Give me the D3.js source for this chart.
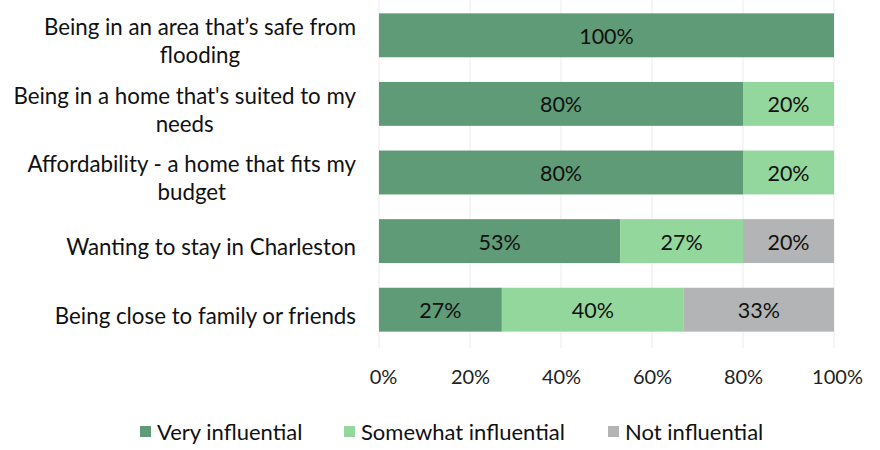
<!DOCTYPE html>
<html>
<head>
<meta charset="utf-8">
<script src="https://cdn.jsdelivr.net/npm/d3@7"></script>
<style>
  html, body { margin: 0; padding: 0; background: #fff; }
  svg { display: block; font-family: Lato, "Open Sans", sans-serif; }
</style>
</head>
<body>
<svg id="chart" width="880" height="450"></svg>
<script>
// Survey: how influential each factor was in choosing where to live
const categories = [
  ["Being in an area that\u2019s safe from", "flooding"],
  ["Being in a home that's suited to my", "needs"],
  ["Affordability - a home that fits my", "budget"],
  ["Wanting to stay in Charleston"],
  ["Being close to family or friends"]
];
const seriesNames = ["Very influential", "Somewhat influential", "Not influential"];
const veryInfluential     = [100, 80, 80, 53, 27];
const somewhatInfluential = [0, 20, 20, 27, 40];
const notInfluential      = [0, 0, 0, 20, 33];
const tickValues = [0, 20, 40, 60, 80, 100];
const colors = ["#5f9b77", "#93d79c", "#b3b4b5"];

const svg = d3.select("#chart");
const plot = { left: 379, right: 834, top: 1, bottom: 344 };

const x = d3.scaleLinear().domain([0, 100]).range([plot.left, plot.right]);
const y = d3.scaleBand().domain(d3.range(categories.length)).range([plot.top, plot.bottom]).paddingInner(0.36).paddingOuter(0.18);

// faint vertical gridlines
svg.append("g").selectAll("line").data(tickValues).join("line")
  .attr("x1", d => x(d)).attr("x2", d => x(d))
  .attr("y1", 0).attr("y2", 348)
  .attr("stroke", "#ebebeb").attr("stroke-width", 1);

// stacked segments
const rows = categories.map((c, i) => ({ i, v: [veryInfluential[i], somewhatInfluential[i], notInfluential[i]] }));
const stack = d3.stack().keys([0, 1, 2]).value((d, k) => d.v[k]);
const layers = stack(rows);

const g = svg.append("g");
layers.forEach((layer, k) => {
  const segs = layer.filter(s => s[1] - s[0] > 0);
  g.append("g").selectAll("rect").data(segs).join("rect")
    .attr("x", s => x(s[0]))
    .attr("y", s => y(s.data.i))
    .attr("width", s => x(s[1]) - x(s[0]))
    .attr("height", y.bandwidth())
    .attr("fill", colors[k]);
  g.append("g").selectAll("text").data(segs).join("text")
    .attr("x", s => x((s[0] + s[1]) / 2))
    .attr("y", s => y(s.data.i) + y.bandwidth() / 2 + 1)
    .attr("dy", "0.35em")
    .attr("text-anchor", "middle")
    .attr("font-size", 21.5)
    .attr("fill", "#111")
    .text(s => `${s[1] - s[0]}%`);
});

// category labels: block right-aligned, wrapped lines centred within the block
const labelRight = 356, lineH = 28;
categories.forEach((lines, i) => {
  const cy = y(i) + y.bandwidth() / 2 + 6;
  const tg = svg.append("g");
  const texts = lines.map((t, j) => tg.append("text")
    .attr("font-size", 22.3)
    .attr("fill", "#111")
    .attr("text-anchor", "middle")
    .attr("y", cy + (j - (lines.length - 1) / 2) * lineH)
    .attr("dy", "0.35em")
    .text(t));
  const w = d3.max(texts, t => t.node().getComputedTextLength());
  texts.forEach(t => t.attr("x", labelRight - w / 2));
});

// x axis tick labels
const axis = svg.append("g").attr("transform", `translate(0,${plot.bottom})`)
  .call(d3.axisBottom(x).tickValues(tickValues).tickFormat(d => d + "%").tickSize(0).tickPadding(26));
axis.select(".domain").remove();
axis.selectAll("text").attr("font-size", 20).attr("fill", "#222").attr("font-family", "Lato, sans-serif");
axis.selectAll("text").attr("x", d => d === 0 ? 4 : (d === 100 ? 3 : 0));

// legend
const legendItems = [
  { name: seriesNames[0], color: colors[0], x: 140 },
  { name: seriesNames[1], color: colors[1], x: 344 },
  { name: seriesNames[2], color: colors[2], x: 608 }
];
const lg = svg.append("g");
legendItems.forEach(d => {
  lg.append("rect").attr("x", d.x).attr("y", 426).attr("width", 11).attr("height", 11).attr("fill", d.color);
  lg.append("text").attr("x", d.x + 17).attr("y", 432).attr("dy", "0.35em")
    .attr("font-size", 22).attr("fill", "#111").text(d.name);
});
</script>
</body>
</html>
